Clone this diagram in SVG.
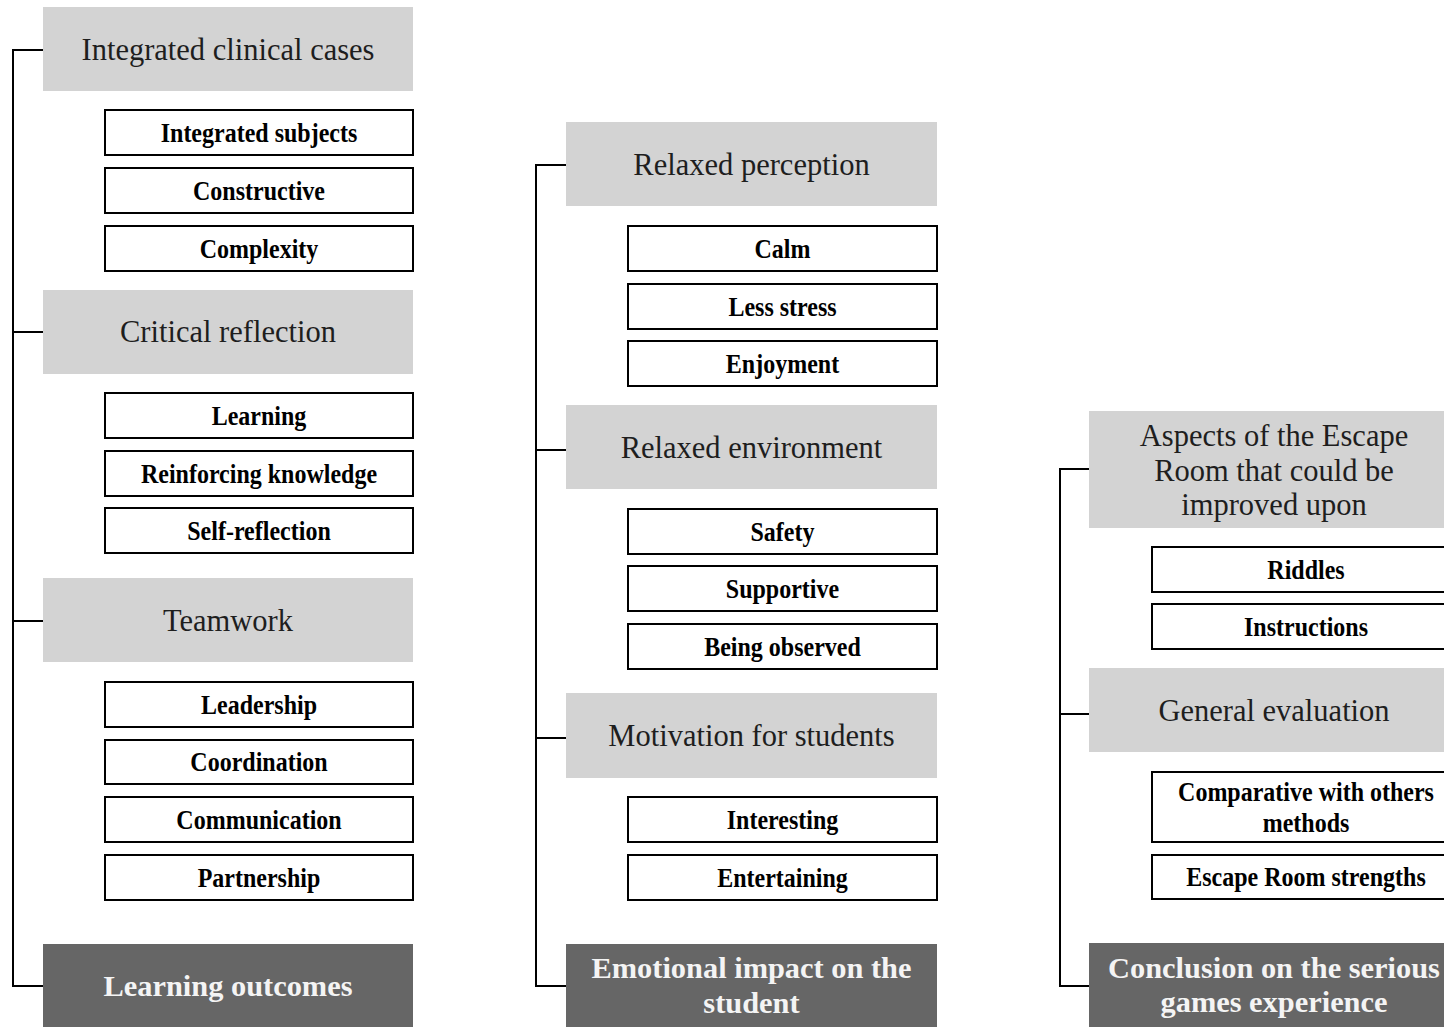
<svg xmlns="http://www.w3.org/2000/svg" width="1444" height="1027" viewBox="0 0 1444 1027">
<style>
.cat{fill:#d3d3d3}
.root{fill:#666666}
.sub{fill:#ffffff;stroke:#000;stroke-width:2}
.ct{font-family:"Liberation Serif","Times New Roman",serif;font-size:30.5px;fill:#1e1e1e;text-anchor:middle}
.rt{font-family:"Liberation Serif","Times New Roman",serif;font-size:30.4px;font-weight:bold;fill:#f4f4f4;text-anchor:middle}
.st{font-family:"Liberation Serif","Times New Roman",serif;font-size:27.5px;font-weight:bold;fill:#000;text-anchor:middle}
.conn{fill:none;stroke:#000;stroke-width:2}
</style>
<rect width="1444" height="1027" fill="#ffffff"/>
<g id="connectors">
<path class="conn" d="M43,50 H13 V986 H43 M13,332 H43 M13,621 H43"/>
<path class="conn" d="M566,165 H536 V986 H566 M536,450 H566 M536,738 H566"/>
<path class="conn" d="M1089,469 H1060 V986 H1089 M1060,714 H1089"/>
</g>
<!-- Column 1 -->
<g id="integrated-clinical-cases"><rect class="cat" x="43" y="7" width="370" height="84"/><text class="ct" x="228" y="60">Integrated clinical cases</text></g>
<g id="integrated-subjects"><rect class="sub" x="105" y="110" width="308" height="45"/><text class="st" transform="translate(259 142) scale(0.873 1)">Integrated subjects</text></g>
<g id="constructive"><rect class="sub" x="105" y="168" width="308" height="45"/><text class="st" transform="translate(259 200) scale(0.873 1)">Constructive</text></g>
<g id="complexity"><rect class="sub" x="105" y="226" width="308" height="45"/><text class="st" transform="translate(259 258) scale(0.873 1)">Complexity</text></g>
<g id="critical-reflection"><rect class="cat" x="43" y="290" width="370" height="84"/><text class="ct" x="228" y="342">Critical reflection</text></g>
<g id="learning"><rect class="sub" x="105" y="393" width="308" height="45"/><text class="st" transform="translate(259 425) scale(0.873 1)">Learning</text></g>
<g id="reinforcing-knowledge"><rect class="sub" x="105" y="451" width="308" height="45"/><text class="st" transform="translate(259 483) scale(0.873 1)">Reinforcing knowledge</text></g>
<g id="self-reflection"><rect class="sub" x="105" y="508" width="308" height="45"/><text class="st" transform="translate(259 540) scale(0.873 1)">Self-reflection</text></g>
<g id="teamwork"><rect class="cat" x="43" y="578" width="370" height="84"/><text class="ct" x="228" y="631">Teamwork</text></g>
<g id="leadership"><rect class="sub" x="105" y="682" width="308" height="45"/><text class="st" transform="translate(259 714) scale(0.873 1)">Leadership</text></g>
<g id="coordination"><rect class="sub" x="105" y="740" width="308" height="44"/><text class="st" transform="translate(259 771) scale(0.873 1)">Coordination</text></g>
<g id="communication"><rect class="sub" x="105" y="797" width="308" height="45"/><text class="st" transform="translate(259 829) scale(0.873 1)">Communication</text></g>
<g id="partnership"><rect class="sub" x="105" y="855" width="308" height="45"/><text class="st" transform="translate(259 887) scale(0.873 1)">Partnership</text></g>
<g id="learning-outcomes"><rect class="root" x="43" y="944" width="370" height="90"/><text class="rt" x="228" y="996">Learning outcomes</text></g>
<!-- Column 2 -->
<g id="relaxed-perception"><rect class="cat" x="566" y="122" width="371" height="84"/><text class="ct" x="751.5" y="175">Relaxed perception</text></g>
<g id="calm"><rect class="sub" x="628" y="226" width="309" height="45"/><text class="st" transform="translate(782.5 258) scale(0.873 1)">Calm</text></g>
<g id="less-stress"><rect class="sub" x="628" y="284" width="309" height="45"/><text class="st" transform="translate(782.5 316) scale(0.873 1)">Less stress</text></g>
<g id="enjoyment"><rect class="sub" x="628" y="341" width="309" height="45"/><text class="st" transform="translate(782.5 373) scale(0.873 1)">Enjoyment</text></g>
<g id="relaxed-environment"><rect class="cat" x="566" y="405" width="371" height="84"/><text class="ct" x="751.5" y="458">Relaxed environment</text></g>
<g id="safety"><rect class="sub" x="628" y="509" width="309" height="45"/><text class="st" transform="translate(782.5 541) scale(0.873 1)">Safety</text></g>
<g id="supportive"><rect class="sub" x="628" y="566" width="309" height="45"/><text class="st" transform="translate(782.5 598) scale(0.873 1)">Supportive</text></g>
<g id="being-observed"><rect class="sub" x="628" y="624" width="309" height="45"/><text class="st" transform="translate(782.5 656) scale(0.873 1)">Being observed</text></g>
<g id="motivation-for-students"><rect class="cat" x="566" y="693" width="371" height="85"/><text class="ct" x="751.5" y="746">Motivation for students</text></g>
<g id="interesting"><rect class="sub" x="628" y="797" width="309" height="45"/><text class="st" transform="translate(782.5 829) scale(0.873 1)">Interesting</text></g>
<g id="entertaining"><rect class="sub" x="628" y="855" width="309" height="45"/><text class="st" transform="translate(782.5 887) scale(0.873 1)">Entertaining</text></g>
<g id="emotional-impact"><rect class="root" x="566" y="944" width="371" height="90"/><text class="rt" x="751.5" y="978">Emotional impact on the</text><text class="rt" x="751.5" y="1013">student</text></g>
<!-- Column 3 -->
<g id="aspects-improved"><rect class="cat" x="1089" y="411" width="370" height="117"/><text class="ct" x="1274" y="446">Aspects of the Escape</text><text class="ct" x="1274" y="481">Room that could be</text><text class="ct" x="1274" y="515">improved upon</text></g>
<g id="riddles"><rect class="sub" x="1152" y="547" width="308" height="45"/><text class="st" transform="translate(1306 579) scale(0.873 1)">Riddles</text></g>
<g id="instructions"><rect class="sub" x="1152" y="604" width="308" height="45"/><text class="st" transform="translate(1306 636) scale(0.873 1)">Instructions</text></g>
<g id="general-evaluation"><rect class="cat" x="1089" y="668" width="370" height="84"/><text class="ct" x="1274" y="721">General evaluation</text></g>
<g id="comparative"><rect class="sub" x="1152" y="772" width="308" height="70"/><text class="st" transform="translate(1306 801) scale(0.873 1)">Comparative with others</text><text class="st" transform="translate(1306 832) scale(0.873 1)">methods</text></g>
<g id="escape-room-strengths"><rect class="sub" x="1152" y="855" width="308" height="44"/><text class="st" transform="translate(1306 886) scale(0.873 1)">Escape Room strengths</text></g>
<g id="conclusion"><rect class="root" x="1089" y="943" width="370" height="90"/><text class="rt" x="1274" y="978">Conclusion on the serious</text><text class="rt" x="1274" y="1012">games experience</text></g>
</svg>
